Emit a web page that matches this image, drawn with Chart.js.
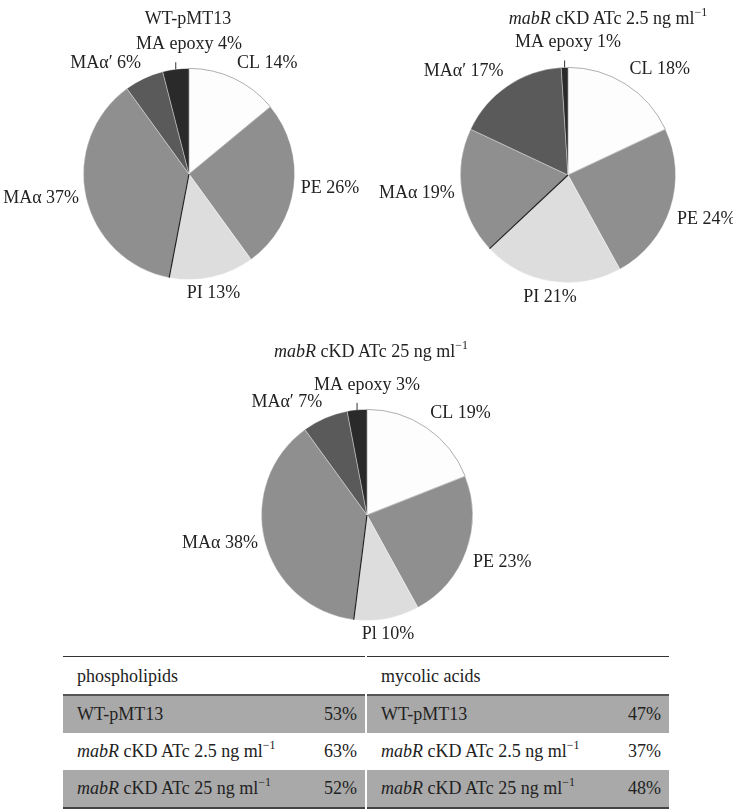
<!DOCTYPE html>
<html>
<head>
<meta charset="utf-8">
<script src="https://cdn.jsdelivr.net/npm/chart.js@4.4.0/dist/chart.umd.min.js"></script>
<style>
  body { margin: 0; background: #fff; font-family: "Liberation Serif", "Times New Roman", serif; color: #222; }
  #wrap { position: relative; width: 733px; height: 811px; overflow: hidden; }
  canvas { position: absolute; }
  .title { position: absolute; font-size: 18px; line-height: 20px; white-space: nowrap; transform: translateX(-50%); }
  sup { font-size: 12px; line-height: 0; position: relative; top: -1px; }
  .col { position: absolute; top: 656px; width: 302px; }
  .col .rule-top { height: 1px; background: #333; }
  .col .head { height: 37px; line-height: 39px; padding-left: 14px; font-size: 18px; }
  .col .rule-mid { height: 2px; background: #555; }
  .col .row { height: 37px; line-height: 37px; font-size: 18px; display: flex; justify-content: space-between; padding: 0 8px 0 14px; }
  .col .row.grey { background: #a9a9a9; }
  .col .rule-bot { height: 2px; background: #444; }
</style>
</head>
<body>
<div id="wrap">
  <canvas id="pie1" width="366" height="310" style="left:0;top:0"></canvas>
  <canvas id="pie2" width="373" height="310" style="left:360px;top:0"></canvas>
  <canvas id="pie3" width="733" height="320" style="left:0;top:330px"></canvas>
  <div class="title" style="left:188px;top:8px">WT-pMT13</div>
  <div class="title" style="left:608px;top:8px"><i>mabR</i> cKD ATc 2.5 ng ml<sup>−1</sup></div>
  <div class="title" style="left:371px;top:341px"><i>mabR</i> cKD ATc 25 ng ml<sup>−1</sup></div>
  <div class="col" id="colP" style="left:63px"></div>
  <div class="col" id="colM" style="left:367px"></div>
</div>
<script>
// lipid classes, clockwise from 12 o'clock
const categories = ['CL', 'PE', 'PI', 'MAα', 'MAα′', 'MA epoxy'];
const categoriesPie3 = ['CL', 'PE', 'Pl', 'MAα', 'MAα′', 'MA epoxy'];

// percentages for each strain
const wtValues = [14, 26, 13, 37, 6, 4];
const atc25Values = [18, 24, 21, 19, 17, 1];
const atc250Values = [19, 23, 10, 38, 7, 3];

// summary table
const strains = ['WT-pMT13', '<i>mabR</i> cKD ATc 2.5 ng ml<sup>−1</sup>', '<i>mabR</i> cKD ATc 25 ng ml<sup>−1</sup>'];
const phospholipids = [53, 63, 52];
const mycolicAcids = [47, 37, 48];

const sliceColors = ['#fdfdfd', '#8f8f8f', '#dddddd', '#8f8f8f', '#5a5a5a', '#2a2a2a'];
const sliceBorders = ['#9a9a9a', 'rgba(255,255,255,0.45)', 'rgba(255,255,255,0.45)', 'rgba(255,255,255,0.45)', 'rgba(255,255,255,0.45)', 'rgba(255,255,255,0.45)'];

// draws "CL 14%" style labels outside each slice, plus the dark divider
// between phospholipids and mycolic acids
const pieLabels = {
  id: 'pieLabels',
  afterDatasetsDraw(chart) {
    const ctx = chart.ctx;
    const meta = chart.getDatasetMeta(0);
    const values = chart.data.datasets[0].data;
    const labels = chart.data.labels;
    ctx.save();
    ctx.font = '18px "Liberation Serif", serif';
    ctx.fillStyle = '#222';

    // divider line at start of MAα
    const div = meta.data[3];
    ctx.strokeStyle = '#222';
    ctx.lineWidth = 1.2;
    ctx.beginPath();
    ctx.moveTo(div.x, div.y);
    ctx.lineTo(div.x + Math.cos(div.startAngle) * div.outerRadius, div.y + Math.sin(div.startAngle) * div.outerRadius);
    ctx.stroke();

    meta.data.forEach((arc, i) => {
      const mid = (arc.startAngle + arc.endAngle) / 2;
      const cx = Math.cos(mid), sy = Math.sin(mid);
      const r = arc.outerRadius;
      const text = labels[i] + ' ' + values[i] + '%';

      if (values[i] < 5) {
        // small slice: leader line and label above the pie
        const px = arc.x + cx * r, py = arc.y + sy * r;
        ctx.strokeStyle = '#333';
        ctx.lineWidth = 1;
        ctx.beginPath();
        ctx.moveTo(px, py);
        ctx.lineTo(px, py - 7);
        ctx.stroke();
        ctx.textAlign = 'center';
        ctx.textBaseline = 'alphabetic';
        ctx.fillText(text, arc.x, py - 20);
        return;
      }

      const ax = arc.x + cx * (r + 7);
      const ay = arc.y + sy * (r + 7);
      ctx.textAlign = cx > 0.25 ? 'left' : (cx < -0.25 ? 'right' : 'center');
      ctx.textBaseline = sy < -0.25 ? 'bottom' : (sy > 0.25 ? 'top' : 'middle');
      ctx.fillText(text, ax, ay);
    });
    ctx.restore();
  }
};

function makePie(id, labels, values, padding) {
  return new Chart(document.getElementById(id), {
    type: 'pie',
    data: {
      labels: labels,
      datasets: [{
        data: values,
        backgroundColor: sliceColors,
        borderColor: sliceBorders,
        borderWidth: 0.8,
        offset: 0,
        hoverOffset: 0
      }]
    },
    options: {
      responsive: false,
      animation: false,
      layout: { padding: padding },
      plugins: {
        legend: { display: false },
        tooltip: { enabled: false }
      }
    },
    plugins: [pieLabels]
  });
}

makePie('pie1', categories, wtValues, { left: 83, top: 68, right: 71, bottom: 30 });
makePie('pie2', categories, atc25Values, { left: 100, top: 67, right: 57, bottom: 27 });
makePie('pie3', categoriesPie3, atc250Values, { left: 261, top: 79, right: 260, bottom: 29 });

function buildColumn(el, heading, vals) {
  let html = '<div class="rule-top"></div><div class="head">' + heading + '</div><div class="rule-mid"></div>';
  strains.forEach((s, i) => {
    html += '<div class="row' + (i % 2 === 0 ? ' grey' : '') + '"><span>' + s + '</span><span>' + vals[i] + '%</span></div>';
  });
  html += '<div class="rule-bot"></div>';
  el.innerHTML = html;
}
buildColumn(document.getElementById('colP'), 'phospholipids', phospholipids);
buildColumn(document.getElementById('colM'), 'mycolic acids', mycolicAcids);
</script>
</body>
</html>
